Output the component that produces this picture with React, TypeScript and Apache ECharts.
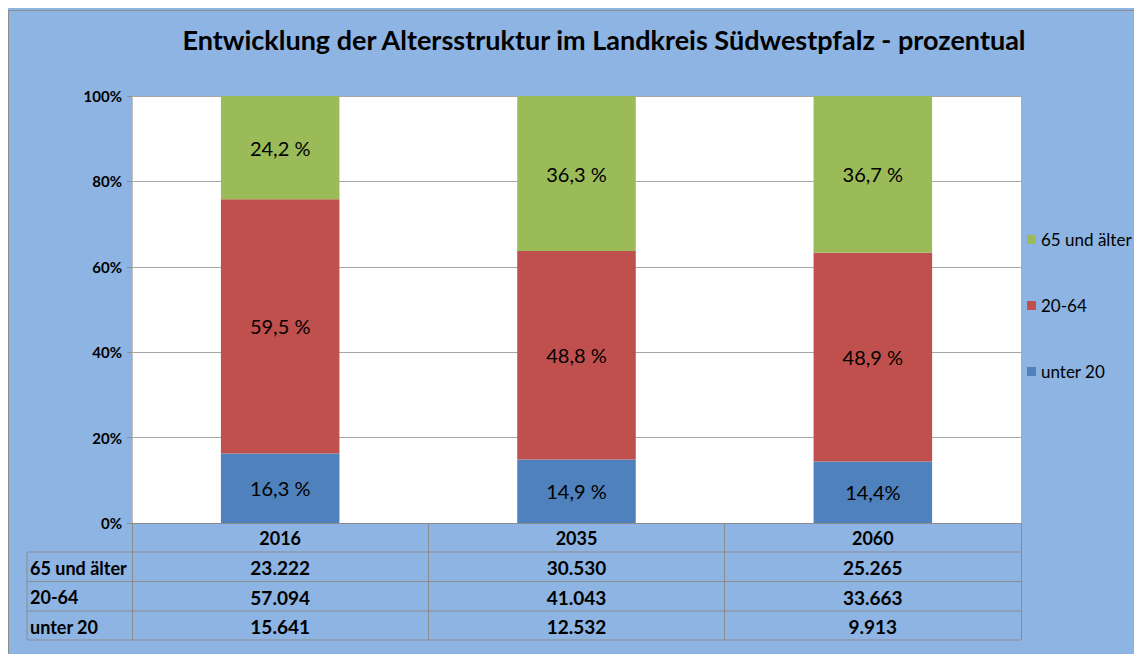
import React, { useEffect, useRef } from "react";
import * as echarts from "echarts";

const years = ["2016", "2035", "2060"];
const seriesNames = ["unter 20", "20-64", "65 und älter"];
const pctUnter20 = [16.3, 14.9, 14.4];
const pct2064 = [59.5, 48.8, 48.9];
const pct65 = [24.2, 36.3, 36.7];
const abs65 = ["23.222", "30.530", "25.265"];
const abs2064 = ["57.094", "41.043", "33.663"];
const absUnter20 = ["15.641", "12.532", "9.913"];
const yTicks = [0, 20, 40, 60, 80, 100];

const BG = "#8DB4E2";
const LINE = "#8C8C8C";
const COLORS = ["#4F81BD", "#C0504D", "#9BBB59"];
const FONT = "Lato, 'Open Sans', sans-serif";

export default function App() {
  const ref = useRef<HTMLDivElement>(null);
  useEffect(() => {
    if (!ref.current) return;
    const chart = echarts.init(ref.current, null, { renderer: "svg" });

    const gl = 124, gt = 88, gw = 889, gh = 427;
    const gb = gt + gh;
    const rowY = [gb, 544, 573.5, 603, 632];
    const colW = gw / years.length;
    const tableRows = [
      { name: "65 und älter", vals: abs65 },
      { name: "20-64", vals: abs2064 },
      { name: "unter 20", vals: absUnter20 },
    ];

    const graphics: any[] = [
      { type: "rect", shape: { x: 0.5, y: 2.5, width: 1200, height: 700 }, style: { fill: "none", stroke: LINE, lineWidth: 1 }, silent: true },
      { type: "line", shape: { x1: 19, y1: rowY[1], x2: 19, y2: rowY[4] }, style: { stroke: LINE, lineWidth: 1 } },
    ];
    for (let r = 1; r <= 4; r++) {
      graphics.push({ type: "line", shape: { x1: 19, y1: rowY[r], x2: gl + gw, y2: rowY[r] }, style: { stroke: LINE, lineWidth: 1 } });
    }
    tableRows.forEach((row, r) => {
      const cy = (rowY[r + 1] + rowY[r + 2]) / 2 + 1;
      graphics.push({
        type: "text", x: 22, y: cy,
        style: { text: row.name, font: `bold 18px ${FONT}`, fill: "#000", textAlign: "left", textVerticalAlign: "middle" },
      });
      row.vals.forEach((v, c) => {
        graphics.push({
          type: "text", x: gl + colW * (c + 0.5), y: cy,
          style: { text: v, font: `bold 19px ${FONT}`, fill: "#000", textAlign: "center", textVerticalAlign: "middle" },
        });
      });
    });

    const fmt = (v: number, noSpace = false) => v.toFixed(1).replace(".", ",") + (noSpace ? "%" : " %");
    const mk = (name: string, vals: number[], color: string, noSpaceIdx: number[] = []) => ({
      name, type: "bar", stack: "total", barWidth: "40%",
      itemStyle: { color },
      label: {
        show: true, position: "inside", color: "#000", fontFamily: FONT, fontSize: 20,
        formatter: (p: any) => fmt(p.value, noSpaceIdx.includes(p.dataIndex)),
      },
      data: vals,
    });

    chart.setOption({
      animation: false,
      backgroundColor: BG,
      textStyle: { fontFamily: FONT },
      title: {
        text: "Entwicklung der Altersstruktur im Landkreis Südwestpfalz - prozentual",
        left: 591, top: 13, textAlign: "center",
        textStyle: { fontFamily: FONT, fontWeight: "bold", fontSize: 27, color: "#000" },
      },
      legend: {
        orient: "vertical", left: 1014, top: 218, itemGap: 49,
        itemWidth: 9, itemHeight: 9, icon: "rect",
        data: [seriesNames[2], seriesNames[1], seriesNames[0]],
        textStyle: { fontFamily: FONT, fontSize: 17, color: "#000" },
      },
      grid: { left: gl, top: gt, width: gw, height: gh, containLabel: false, show: true, backgroundColor: "#FFFFFF", borderWidth: 0 },
      xAxis: {
        type: "category", data: years, boundaryGap: true,
        axisLine: { lineStyle: { color: LINE } },
        axisTick: { show: true, length: rowY[4] - gb, lineStyle: { color: LINE } },
        axisLabel: { fontFamily: FONT, fontWeight: "bold", fontSize: 18, color: "#000", margin: 6 },
      },
      yAxis: {
        type: "value", min: yTicks[0], max: yTicks[yTicks.length - 1], interval: 20,
        axisLine: { show: true, lineStyle: { color: "#BFBFBF" } },
        axisTick: { show: true, length: 5, lineStyle: { color: LINE } },
        axisLabel: { formatter: "{value}%", fontFamily: FONT, fontWeight: "bold", fontSize: 15, color: "#000", margin: 10 },
        splitLine: { show: true, lineStyle: { color: "#A6A6A6" } },
      },
      series: [
        mk(seriesNames[0], pctUnter20, COLORS[0], [2]),
        mk(seriesNames[1], pct2064, COLORS[1]),
        mk(seriesNames[2], pct65, COLORS[2]),
      ],
      graphic: graphics,
    });
    return () => chart.dispose();
  }, []);
  return <div ref={ref} style={{ width: 1134, height: 646 }} />;
}
